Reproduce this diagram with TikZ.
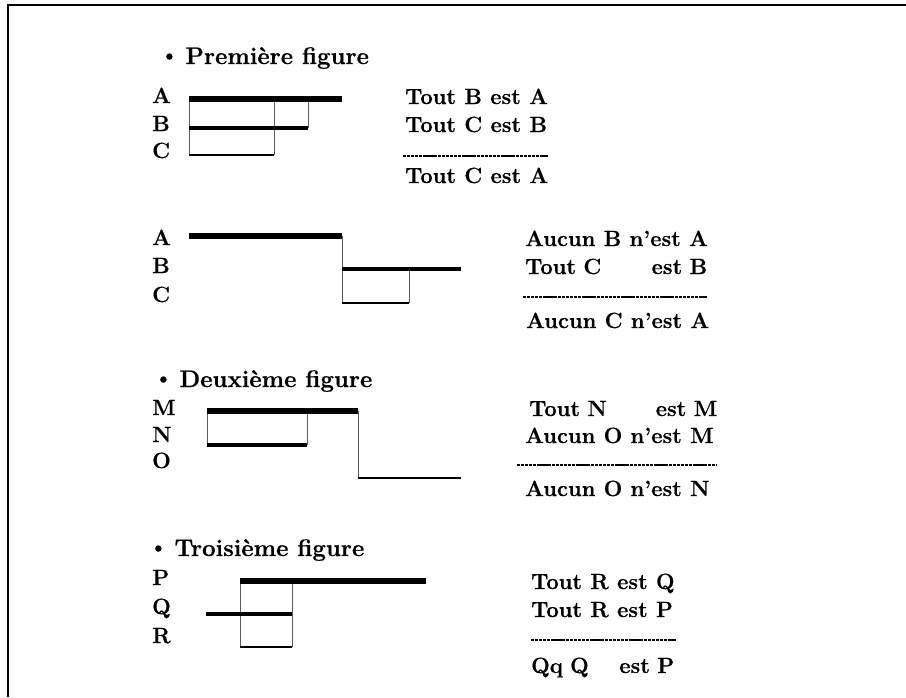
\documentclass[tikz,border=0pt]{standalone}
\usepackage{fontspec}
\setmainfont{Latin Modern Roman}[BoldFeatures={FakeBold=0.6}]
\newcommand{\headbullet}{\raisebox{2.5pt}{\fontsize{21}{21}\selectfont\textbullet}\kern7pt}
\tikzset{
  txt/.style={font=\bfseries\fontsize{22}{26}\selectfont, anchor=base west, inner sep=0pt},
  head/.style={font=\bfseries\fontsize{24}{28}\selectfont, anchor=base west, inner sep=0pt},
  spread/.style={txt, text width=#1, align=left},
  termlbl/.style={txt},
  barA/.style={line width=5.5pt, black},
  barB/.style={line width=4pt, black},
  barC/.style={line width=2.8pt, black},
  link/.style={line width=0.8pt, black!65},
  rule/.style={line width=2pt, black, dash pattern=on 3.2pt off 0.7pt},
  frame/.style={line width=2pt, black}
}
\begin{document}
\begin{tikzpicture}[x=1pt, y=-1pt, line cap=butt]
\useasboundingbox (0,0) rectangle (906,697);
\fill[white] (0,0) rectangle (906,697);

% page border: top and left edges only
\coordinate (tl) at (8,5);
\coordinate (tr) at (906,5);
\coordinate (bl) at (8,697);
\draw[frame] (tr) -- (tl) -- (bl);

% ---------------- Première figure ----------------
\node[head] (t1) at (160,64) {\headbullet Première figure};
\node[termlbl] (lA1) at (152,103) {A};
\node[termlbl] (lB1) at (152,131) {B};
\node[termlbl] (lC1) at (152,158) {C};
\coordinate (a1s) at (189,99);  \coordinate (a1e) at (342,99);
\coordinate (a1m) at (274,99);  \coordinate (a1n) at (308,99);
\coordinate (b1s) at (189,128); \coordinate (b1e) at (308,128);
\coordinate (c1s) at (189,155); \coordinate (c1e) at (274,155);
\draw[link] (a1s) -- (c1s);
\draw[link] (a1m) -- (c1e);
\draw[link] (a1n) -- (b1e);
\draw[barA] (a1s) -- (a1e);
\draw[barB] (b1s) -- (b1e);
\draw[barC] (c1s) -- (c1e);
\node[txt] (p11) at (405,104) {Tout B est A};
\node[txt] (p12) at (405,132) {Tout C est B};
\coordinate (r1s) at (403,156); \coordinate (r1e) at (548,156);
\draw[rule] (r1s) -- (r1e);
\node[txt] (c1) at (405,183) {Tout C est A};

% ---------------- second syllogism ----------------
\node[termlbl] (lA2) at (152,245) {A};
\node[termlbl] (lB2) at (152,273) {B};
\node[termlbl] (lC2) at (152,302) {C};
\coordinate (a2s) at (189,236); \coordinate (a2e) at (342,236);
\coordinate (b2s) at (342,269); \coordinate (b2e) at (461,269);
\coordinate (b2m) at (409,269);
\coordinate (c2s) at (342,303); \coordinate (c2e) at (409,303);
\draw[link] (a2e) -- (c2s);
\draw[link] (b2m) -- (c2e);
\draw[barA] (a2s) -- (a2e);
\draw[barB] (b2s) -- (b2e);
\draw[barC] (c2s) -- (c2e);
\node[txt] (p21) at (525,246) {Aucun B n'est A};
\node[spread=182pt] (p22) at (525,274) {Tout C\hfill est B};
\coordinate (r2s) at (523,297); \coordinate (r2e) at (707,297);
\draw[rule] (r2s) -- (r2e);
\node[txt] (c2) at (526,328) {Aucun C n'est A};

% ---------------- Deuxième figure ----------------
\node[head] (t2) at (154,387) {\headbullet Deuxième figure};
\node[termlbl] (lM) at (152,415) {M};
\node[termlbl] (lN) at (152,442) {N};
\node[termlbl] (lO) at (152,468) {O};
\coordinate (ms) at (207,411); \coordinate (me) at (358,411);
\coordinate (mm) at (307,411);
\coordinate (ns) at (207,445); \coordinate (ne) at (307,445);
\coordinate (os) at (358,478); \coordinate (oe) at (461,478);
\draw[link] (ms) -- (ns);
\draw[link] (mm) -- (ne);
\draw[link] (me) -- (os);
\draw[barA] (ms) -- (me);
\draw[barB] (ns) -- (ne);
\draw[barC] (os) -- (oe);
\node[spread=188pt] (p31) at (529,416) {Tout N\hfill est M};
\node[txt] (p32) at (525,443) {Aucun O n'est M};
\coordinate (r3s) at (517,465); \coordinate (r3e) at (717,465);
\draw[rule] (r3s) -- (r3e);
\node[txt] (c3) at (525,496) {Aucun O n'est N};

% ---------------- Troisième figure ----------------
\node[head] (t3) at (149,556) {\headbullet Troisième figure};
\node[termlbl] (lP) at (152,585) {P};
\node[termlbl] (lQ) at (152,614) {Q};
\node[termlbl] (lR) at (152,643) {R};
\coordinate (ps) at (240,581); \coordinate (pe) at (426,581);
\coordinate (pm) at (292,581);
\coordinate (qs) at (206,614); \coordinate (qe) at (292,614);
\coordinate (rs) at (240,647); \coordinate (re) at (292,647);
\draw[link] (ps) -- (rs);
\draw[link] (pm) -- (re);
\draw[barA] (ps) -- (pe);
\draw[barB] (qs) -- (qe);
\draw[barC] (rs) -- (re);
\node[txt] (p41) at (531,589) {Tout R est Q};
\node[txt] (p42) at (531,617) {Tout R est P};
\coordinate (r4s) at (531,640); \coordinate (r4e) at (676,640);
\draw[rule] (r4s) -- (r4e);
\node[spread=143pt] (c4) at (531,673) {Qq Q\hfill est P};
\end{tikzpicture}
\end{document}
